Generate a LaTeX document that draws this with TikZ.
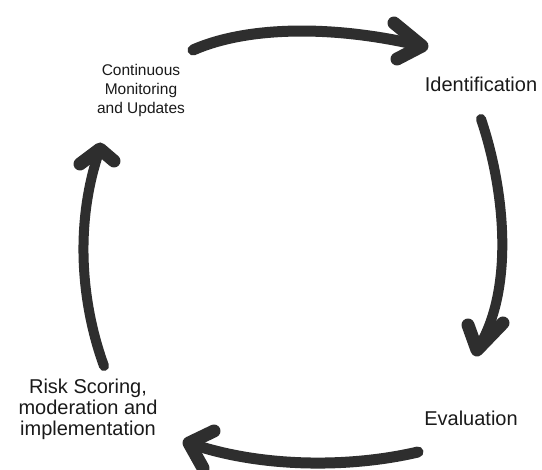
\documentclass[tikz,border=0pt]{standalone}
\usepackage{fontspec}
\setmainfont{Liberation Sans}
\definecolor{inkgray}{HTML}{2E2E2E}
\definecolor{txtgray}{HTML}{1A1A1A}
\tikzset{
  shaft/.style={draw=inkgray, line width=#1, line cap=round, line join=round},
  shaft/.default=11pt,
  chevron/.style={draw=inkgray, line width=13pt, line cap=round, line join=round},
  lbl/.style={text=txtgray, align=center, inner sep=0pt},
}
\begin{document}
\begin{tikzpicture}[x=1pt,y=-1pt]
\useasboundingbox (0,0) rectangle (542,470);
\fill[white] (0,0) rectangle (542,470);

% labels
\node[lbl, font=\fontsize{15.5}{19}\selectfont] (cm) at (141,90) {Continuous\\Monitoring\\and Updates};
\node[lbl, font=\fontsize{20}{22}\selectfont] (id) at (481,84) {Identification};
\node[lbl, font=\fontsize{20}{22}\selectfont] (ev) at (471,418) {Evaluation};
\node[lbl, font=\fontsize{20}{21}\selectfont] (rs) at (88,409) {Risk Scoring,\\moderation and\\implementation};

% arrow end points
\coordinate (a1s) at (193,50);
\coordinate (a1t) at (422,46);
\coordinate (a1u) at (394,23);
\coordinate (a1l) at (397,59);

\coordinate (a2s) at (481,119);
\coordinate (a2t) at (477,350);
\coordinate (a2u) at (468,325);
\coordinate (a2l) at (503,323);

\coordinate (a3s) at (418,452);
\coordinate (a3t) at (189,443);
\coordinate (a3u) at (214,431);
\coordinate (a3l) at (203,468);

\coordinate (a4s) at (104,366);
\coordinate (a4t) at (100,149);
\coordinate (a4u) at (80,164);
\coordinate (a4l) at (114,161);

% top arrow: Continuous Monitoring -> Identification
\draw[shaft=11pt] (a1s) .. controls (245,27) and (330,24) .. (a1t);
\draw[chevron] (a1u) -- (a1t) -- (a1l);

% right arrow: Identification -> Evaluation
\draw[shaft=10pt] (a2s) .. controls (505,190) and (515,290) .. (a2t);
\draw[chevron] (a2u) -- (a2t) -- (a2l);

% bottom arrow: Evaluation -> Risk Scoring
\draw[shaft=11pt] (a3s) .. controls (350,468) and (260,468) .. (a3t);
\draw[chevron] (a3u) -- (a3t) -- (a3l);

% left arrow: Risk Scoring -> Continuous Monitoring
\draw[shaft=10pt] (a4s) .. controls (80,300) and (75,220) .. (a4t);
\draw[chevron] (a4u) -- (a4t) -- (a4l);
\end{tikzpicture}
\end{document}
